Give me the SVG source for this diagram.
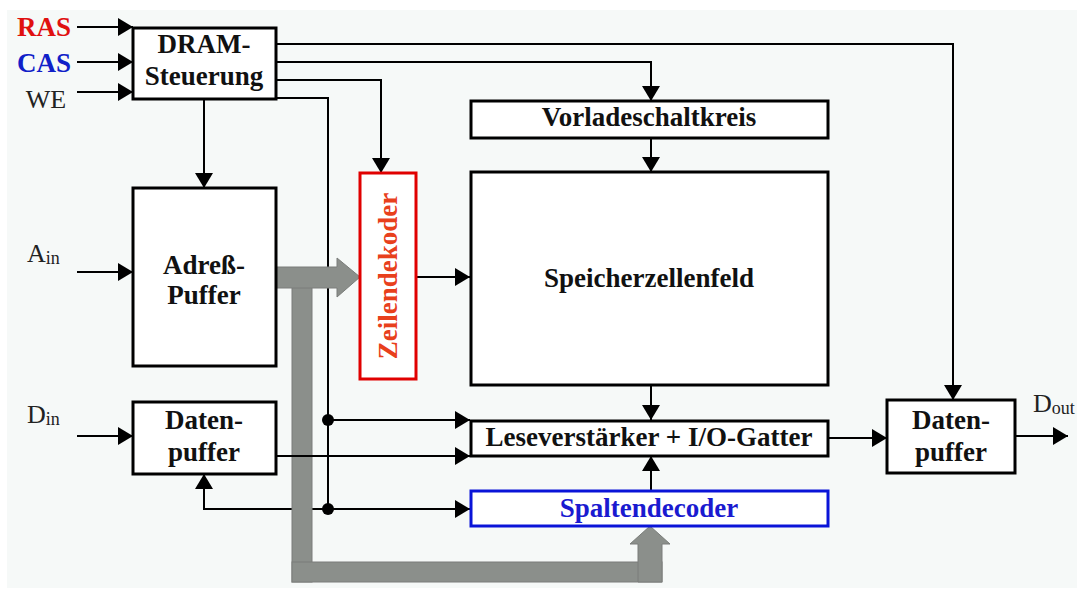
<svg xmlns="http://www.w3.org/2000/svg" width="1077" height="590" viewBox="0 0 1077 590">
  <style>
    .box { fill: #ffffff; stroke: #000000; stroke-width: 3; }
    .wire { fill: none; stroke: #000000; stroke-width: 2; }
    .arr { marker-end: url(#ah); }
    .lbl { font-family: "Liberation Serif", "Times New Roman", serif; font-weight: bold; font-size: 27px; fill: #111111; text-anchor: middle; }
    .sig { font-family: "Liberation Serif", "Times New Roman", serif; font-size: 26px; fill: #222222; }
    .sub { font-size: 18px; }
    .bus { fill: #8b8f8b; stroke: #7a7d7a; stroke-width: 1; }
  </style>
  <defs>
    <marker id="ah" markerUnits="userSpaceOnUse" markerWidth="16" markerHeight="18" refX="15" refY="9" orient="auto">
      <path d="M0,0 L15,9 L0,18 z" fill="#000000"/>
    </marker>
  </defs>

  <rect x="0" y="0" width="1077" height="590" fill="#ffffff"/>
  <rect x="7" y="10" width="1070" height="578" fill="#f6f9f8"/>

  <!-- signal labels -->
  <g id="labels">
    <text x="44" y="36" class="lbl" style="fill:#e01010">RAS</text>
    <text x="44" y="72" class="lbl" style="fill:#1020c8">CAS</text>
    <text x="46" y="108" class="sig" text-anchor="middle">WE</text>
    <text x="27" y="262" class="sig">A<tspan class="sub" dy="2">in</tspan></text>
    <text x="27" y="423" class="sig">D<tspan class="sub" dy="2">in</tspan></text>
    <text x="1033" y="412" class="sig">D<tspan class="sub" dy="2">out</tspan></text>
  </g>

  <!-- connectors -->
  <g id="connectors">
    <line class="wire arr" x1="77" y1="27" x2="133" y2="27"/>
    <line class="wire arr" x1="77" y1="62" x2="133" y2="62"/>
    <line class="wire arr" x1="77" y1="92" x2="133" y2="92"/>
    <line class="wire arr" x1="77" y1="272" x2="133" y2="272"/>
    <line class="wire arr" x1="77" y1="436" x2="133" y2="436"/>
    <polyline class="wire arr" points="276,44 953,44 953,400"/>
    <polyline class="wire arr" points="276,62 651,62 651,101"/>
    <polyline class="wire arr" points="276,80 381,80 381,173"/>
    <polyline class="wire" points="276,98 328,98 328,509"/>
    <line class="wire arr" x1="204" y1="99" x2="204" y2="188"/>
    <line class="wire arr" x1="651" y1="138" x2="651" y2="172"/>
    <line class="wire arr" x1="416" y1="277" x2="470" y2="277"/>
    <line class="wire arr" x1="651" y1="385" x2="651" y2="420"/>
    <line class="wire arr" x1="651" y1="491" x2="651" y2="456"/>
    <line class="wire arr" x1="828" y1="438" x2="887" y2="438"/>
    <line class="wire arr" x1="1015" y1="436" x2="1068" y2="436"/>
    <line class="wire arr" x1="328" y1="420" x2="470" y2="420"/>
    <line class="wire arr" x1="328" y1="509" x2="470" y2="509"/>
    <polyline class="wire arr" points="328,509 204,509 204,474"/>
    <circle cx="328" cy="420" r="6" fill="#000000"/>
    <circle cx="328" cy="509" r="6" fill="#000000"/>
  </g>

  <!-- address bus -->
  <g id="bus">
    <rect class="bus" x="292" y="285" width="20" height="297"/>
    <rect class="bus" x="292" y="562" width="370" height="20"/>
    <polygon class="bus" points="638,582 638,544 630,544 650,526 670,544 662,544 662,582"/>
    <polygon class="bus" points="276,267 337,267 337,258 360,277 337,297 337,288 276,288"/>
  </g>

  <line class="wire arr" x1="276" y1="456" x2="470" y2="456"/>

  <g id="dram">
    <rect class="box" x="133" y="28" width="143" height="71"/>
    <text x="204" y="53" class="lbl">DRAM-</text>
    <text x="204" y="85" class="lbl">Steuerung</text>
  </g>
  <g id="adresspuffer">
    <rect class="box" x="133" y="188" width="143" height="178"/>
    <text x="204" y="274" class="lbl">Adreß-</text>
    <text x="204" y="304" class="lbl">Puffer</text>
  </g>
  <g id="zeilendekoder">
    <rect x="360" y="173" width="56" height="206" fill="#ffffff" stroke="#e00000" stroke-width="3"/>
    <text transform="translate(397,276) rotate(-90)" class="lbl" style="fill:#e8401c">Zeilendekoder</text>
  </g>
  <g id="vorlade">
    <rect class="box" x="471" y="101" width="357" height="37"/>
    <text x="649" y="126" class="lbl">Vorladeschaltkreis</text>
  </g>
  <g id="speicher">
    <rect class="box" x="471" y="172" width="357" height="213"/>
    <text x="649" y="287" class="lbl">Speicherzellenfeld</text>
  </g>
  <g id="lese">
    <rect class="box" x="471" y="421" width="357" height="35"/>
    <text x="649" y="446" class="lbl">Leseverstärker + I/O-Gatter</text>
  </g>
  <g id="spalten">
    <rect x="471" y="491" width="357" height="35" fill="#ffffff" stroke="#0a14d8" stroke-width="3"/>
    <text x="649" y="517" class="lbl" style="fill:#1a1ad0">Spaltendecoder</text>
  </g>
  <g id="datenpuffer-in">
    <rect class="box" x="133" y="402" width="143" height="72"/>
    <text x="204" y="429" class="lbl">Daten-</text>
    <text x="204" y="461" class="lbl">puffer</text>
  </g>
  <g id="datenpuffer-out">
    <rect class="box" x="887" y="400" width="128" height="73"/>
    <text x="951" y="429" class="lbl">Daten-</text>
    <text x="951" y="461" class="lbl">puffer</text>
  </g>
</svg>
